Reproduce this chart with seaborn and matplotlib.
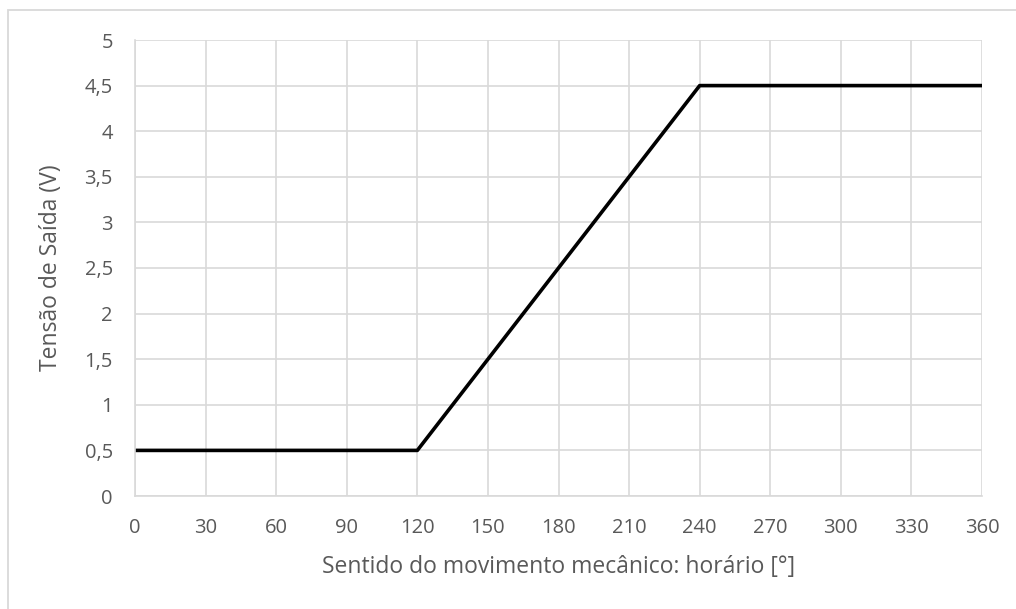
import numpy as np
import pandas as pd
import matplotlib
matplotlib.use('Agg')
import matplotlib.pyplot as plt
import seaborn as sns
from matplotlib.patches import Rectangle

# ============================
# DADOS
# ============================

angulo = [0, 120, 240, 360]
tensao = [0.5, 0.5, 4.5, 4.5]

x_ticks = list(range(0, 361, 30))
y_ticks = [0, 0.5, 1, 1.5, 2, 2.5, 3, 3.5, 4, 4.5, 5]

df = pd.DataFrame({'angulo': angulo, 'tensao': tensao})

# ============================
# ESTILO
# ============================

sns.set_theme(style='white')
plt.rcParams['font.family'] = ['Open Sans', 'DejaVu Sans']

cor_texto = '#595959'
cor_grade = '#d9d9d9'

fig = plt.figure(figsize=(10.16, 6.09), dpi=100)
ax = fig.add_axes([135 / 1016, 1 - 496 / 609, (982 - 135) / 1016, (496 - 40) / 609])

# borda externa do gráfico (estilo Excel)
fig.patches.append(Rectangle((8 / 1016, -0.05), 1.1, 1 - 10 / 609 + 0.05,
                             transform=fig.transFigure, fill=False,
                             edgecolor=cor_grade, linewidth=1.3))

sns.lineplot(data=df, x='angulo', y='tensao', color='black',
             linewidth=2.6, ax=ax)

ax.set_xlim(0, 360)
ax.set_ylim(0, 5)
ax.set_xticks(x_ticks)
ax.set_yticks(y_ticks)
ax.set_xticklabels([str(v) for v in x_ticks])
ax.set_yticklabels([f'{v:g}'.replace('.', ',') for v in y_ticks])

ax.grid(True, color=cor_grade, linewidth=1.2)
ax.set_axisbelow(True)
for lado in ['top', 'right']:
    ax.spines[lado].set_visible(False)
for lado in ['left', 'bottom']:
    ax.spines[lado].set_color(cor_grade)
    ax.spines[lado].set_linewidth(1.2)

ax.tick_params(axis='both', colors=cor_texto, labelsize=14.5, length=0)
ax.tick_params(axis='y', pad=16)
ax.tick_params(axis='x', pad=16)

ax.set_xlabel('Sentido do movimento mecânico: horário [°]', color=cor_texto,
              fontsize=16.5)
ax.set_ylabel('Tensão de Saída (V)', color=cor_texto, fontsize=16.5)
ax.xaxis.set_label_coords(0.5, (496 - 555) / 456)
ax.yaxis.set_label_coords((63 - 135) / 847, 0.5)

fig.savefig('out.png', dpi=100)
